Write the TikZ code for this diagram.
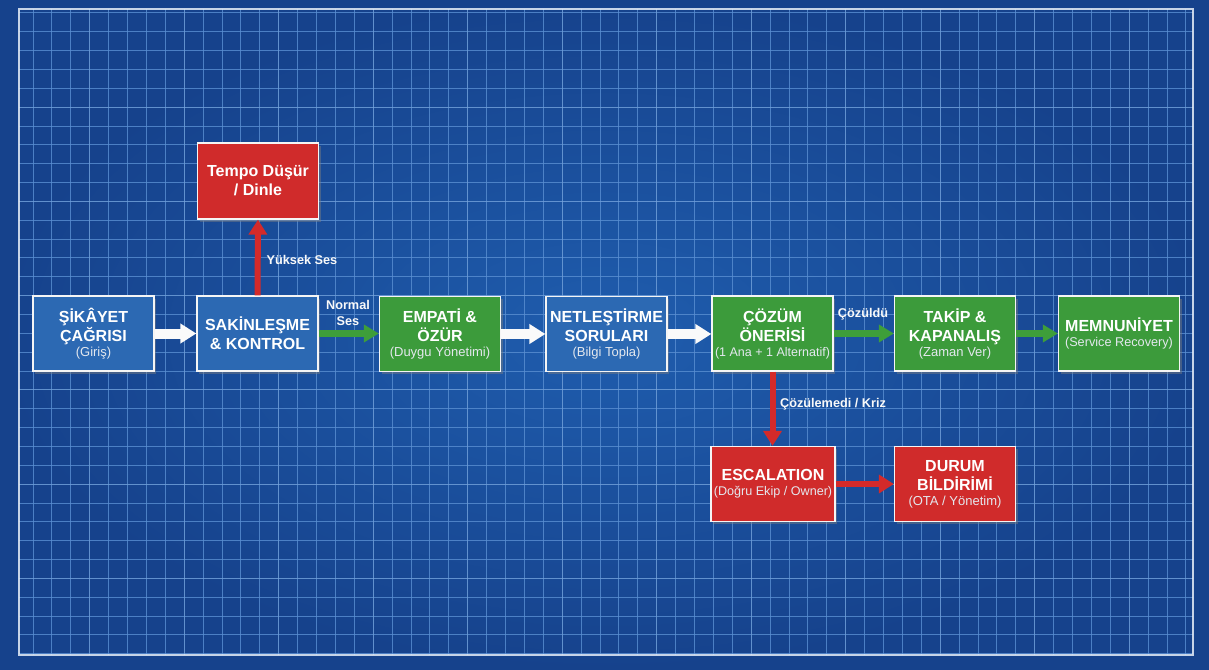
\documentclass[tikz,border=0pt]{standalone}
\usepackage{fontspec}
\setmainfont{Liberation Sans}
\usetikzlibrary{arrows.meta,shadows}
\definecolor{bgin}{HTML}{1F5DAE}
\definecolor{bgout}{HTML}{16428C}
\definecolor{gridc}{HTML}{5A8FD2}
\definecolor{bbox}{HTML}{2C69B3}
\definecolor{gbox}{HTML}{3C9B3B}
\definecolor{rbox}{HTML}{D02B2B}
\definecolor{garrow}{HTML}{3E9E3A}
\definecolor{rarrow}{HTML}{D42A2A}
\definecolor{subgray}{HTML}{E4E8EE}
\begin{document}
\begin{tikzpicture}[x=1pt,y=-1pt,
  box/.style={draw=white!92!gray, line width=1.3pt, minimum width=121pt, minimum height=75pt,
    align=center, text=white, inner sep=1pt,
    font=\bfseries\fontsize{16}{19}\selectfont,
    drop shadow={opacity=0.45, shadow xshift=2pt, shadow yshift=-2.5pt}},
  bluebox/.style={box, fill=bbox},
  greenbox/.style={box, fill=gbox},
  redbox/.style={box, fill=rbox},
  warrow/.style={draw=white!96!gray, line width=10pt, -{Triangle[length=16pt,width=19pt]}},
  garr/.style={draw=garrow, line width=6.5pt, -{Triangle[length=15pt,width=17pt]}},
  rarr/.style={draw=rarrow, line width=6pt, -{Triangle[length=15pt,width=18pt]}},
  lbl/.style={text=white!95!gray, font=\bfseries\fontsize{12.7}{16}\selectfont, align=center, inner sep=1pt},
]
\newcommand{\subl}[2][13]{\\[-4pt]{\mdseries\fontsize{#1}{15}\selectfont\color{subgray}#2}}
% background
\shade[inner color=bgin, outer color=bgout] (0,0) rectangle (1209,669);
\useasboundingbox (0,0) rectangle (1209,669);
\begin{scope}
  \clip (19,9) rectangle (1193,655);
  \foreach \i in {0,...,62} \draw[gridc, opacity=0.8, line width=0.9pt] (14.1+18.9*\i,9) -- (14.1+18.9*\i,655);
  \foreach \k in {0,...,34} \draw[gridc, opacity=0.8, line width=0.9pt] (19,12.85+18.85*\k) -- (1193,12.85+18.85*\k);
  \foreach \i in {4,9,...,59} \draw[gridc!70!white, opacity=0.35, line width=1pt] (14.1+18.9*\i,9) -- (14.1+18.9*\i,655);
  \foreach \k in {5,10,...,30} \draw[gridc!70!white, opacity=0.35, line width=1pt] (19,12.85+18.85*\k) -- (1193,12.85+18.85*\k);
\end{scope}
\draw[white!85!gridc, opacity=0.85, line width=1.5pt] (19,9) rectangle (1193,655);

% nodes
\node[bluebox] (sik) at (93.5,333.5) {ŞİKÂYET\\ÇAĞRISI\subl{(Giriş)}};
\node[bluebox] (sak) at (257.5,333.5) {SAKİNLEŞME\\\& KONTROL};
\node[redbox, minimum height=76pt] (tem) at (258,181) {Tempo Düşür\\/ Dinle};
\node[greenbox] (emp) at (440,334) {EMPATİ \&\\ÖZÜR\subl{(Duygu Yönetimi)}};
\node[bluebox] (net) at (606.5,334) {NETLEŞTİRME\\SORULARI\subl{(Bilgi Topla)}};
\node[greenbox] (coz) at (772.5,333.5) {ÇÖZÜM\\ÖNERİSİ\subl[12.5]{(1 Ana + 1 Alternatif)}};
\node[greenbox] (tak) at (955,333.5) {TAKİP \&\\KAPANALIŞ\subl{(Zaman Ver)}};
\node[greenbox] (mem) at (1119,333.5) {MEMNUNİYET\subl[12.7]{(Service Recovery)}};
\node[redbox, minimum width=124pt] (esc) at (773,484) {ESCALATION\subl[12.6]{(Doğru Ekip / Owner)}};
\node[redbox] (dur) at (955,484) {DURUM\\BİLDİRİMİ\subl{(OTA / Yönetim)}};

% connectors
\draw[warrow] (sik.east) -- (sak.west);
\draw[rarr] (sak.north) -- (tem.south);
\draw[garr] (sak.east) -- (emp.west |- sak.east);
\draw[warrow] (emp.east) -- (net.west);
\draw[warrow] (net.east) -- (coz.west |- net.east);
\draw[garr] (coz.east) -- (tak.west);
\draw[garr] (tak.east) -- (mem.west);
\draw[rarr] (coz.south) -- (esc.north -| coz.south);
\draw[rarr] (esc.east) -- (dur.west);

% labels
\node[lbl] (l1) at (302,260) {Yüksek Ses};
\node[lbl] (l2) at (348,313) {Normal\\Ses};
\node[lbl] (l3) at (863,314) {Çözüldü};
\node[lbl] (l4) at (833,404) {Çözülemedi / Kriz};
\end{tikzpicture}
\end{document}
